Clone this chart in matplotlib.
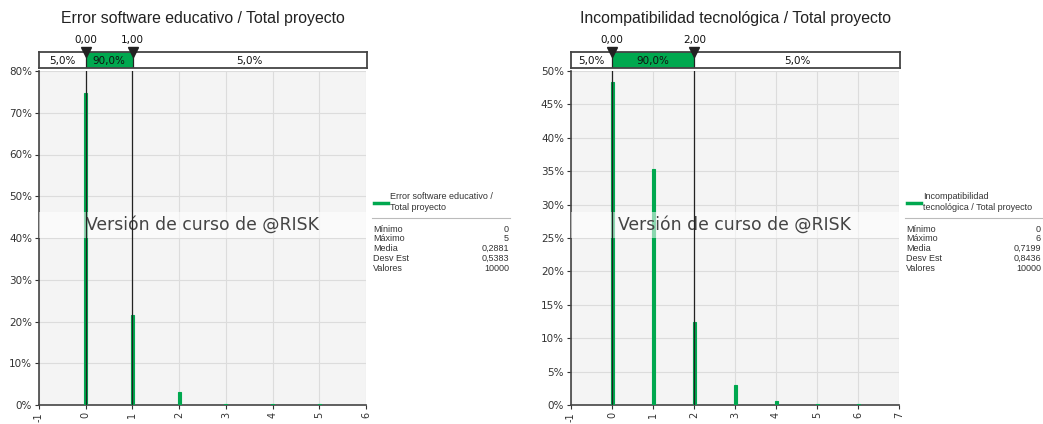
import matplotlib
matplotlib.use("Agg")
import matplotlib.pyplot as plt
from matplotlib.patches import Rectangle

plt.rcParams["font.family"] = ["DejaVu Sans"]
TITLE_FONT = "Liberation Sans"

GREEN = "#00A84F"
TEXT = "#333333"

# Left panel: Error software educativo
err_title = "Error software educativo / Total proyecto"
err_legend = "Error software educativo /\nTotal proyecto"
err_x = [0, 1, 2, 3, 4, 5]
err_pct = [74.7, 21.5, 3.1, 0.3, 0.2, 0.2]
err_ylim = 80
err_yticks = [0, 10, 20, 30, 40, 50, 60, 70, 80]
err_xticks = [-1, 0, 1, 2, 3, 4, 5, 6]
err_marks = [0.0, 1.0]
err_band = ["5,0%", "90,0%", "5,0%"]
err_stats = [("Mínimo", "0"), ("Máximo", "5"), ("Media", "0,2881"),
             ("Desv Est", "0,5383"), ("Valores", "10000")]

# Right panel: Incompatibilidad tecnológica
inc_title = "Incompatibilidad tecnológica / Total proyecto"
inc_legend = "Incompatibilidad\ntecnológica / Total proyecto"
inc_x = [0, 1, 2, 3, 4, 5, 6]
inc_pct = [48.3, 35.3, 12.4, 3.0, 0.6, 0.2, 0.2]
inc_ylim = 50
inc_yticks = [0, 5, 10, 15, 20, 25, 30, 35, 40, 45, 50]
inc_xticks = [-1, 0, 1, 2, 3, 4, 5, 6, 7]
inc_marks = [0.0, 2.0]
inc_band = ["5,0%", "90,0%", "5,0%"]
inc_stats = [("Mínimo", "0"), ("Máximo", "6"), ("Media", "0,7199"),
             ("Desv Est", "0,8436"), ("Valores", "10000")]

W, H = 1043, 424
fig = plt.figure(figsize=(W / 100, H / 100), dpi=100)


def fx(px):
    return px / W


def fy(py):
    return 1 - py / H


def panel(x0, x1, title, xs, pct, ylim, yticks, xticks, marks, band,
          legend_label, stats, leg_x, leg_right):
    ax = fig.add_axes([fx(x0), fy(405), fx(x1 - x0), fy(71) - fy(405)])
    ax.set_facecolor("#F4F4F4")
    ax.set_xlim(xticks[0], xticks[-1])
    ax.set_ylim(0, ylim)
    ax.set_yticks(yticks)
    ax.set_yticklabels([f"{v}%" for v in yticks])
    ax.set_xticks(xticks)
    ax.set_xticklabels([str(v) for v in xticks], rotation=90)
    ax.grid(True, color="#DCDCDC", lw=0.8)
    ax.set_axisbelow(True)
    for s in ("top", "right"):
        ax.spines[s].set_visible(False)
    for s in ("left", "bottom"):
        ax.spines[s].set_color("#444444")
        ax.spines[s].set_linewidth(1.2)
    ax.tick_params(axis="both", labelsize=7.5, colors=TEXT, length=3,
                   width=0.8, pad=2)
    ax.tick_params(axis="x", labelsize=7, pad=2)
    unit_px = (x1 - x0) / (xticks[-1] - xticks[0])
    ax.bar(xs, pct, width=3.0 / unit_px, color=GREEN, edgecolor=GREEN,
           linewidth=0.8, zorder=2.6)
    # watermark band
    ax.axhspan(ylim * (405 - 238) / 334, ylim * (405 - 212) / 334,
               color="white", alpha=0.55, lw=0, zorder=3)
    ax.text(xticks[0] + (xticks[-1] - xticks[0]) * (47 / 327),
            ylim * (405 - 225) / 334, "Versión de curso de @RISK",
            fontsize=12.4, color="#444444", va="center", ha="left", zorder=4)
    for m in marks:
        ax.axvline(m, color="#222222", lw=0.9, zorder=5)

    # percentile band above the plot
    bx = fig.add_axes([fx(x0), fy(68), fx(x1 - x0 + 1), fy(52) - fy(68)])
    bx.set_xlim(xticks[0], xticks[-1])
    bx.set_ylim(0, 1)
    bx.set_xticks([])
    bx.set_yticks([])
    for s in bx.spines.values():
        s.set_color("#444444")
        s.set_linewidth(1.3)
    bx.add_patch(Rectangle((marks[0], 0), marks[1] - marks[0], 1,
                           color=GREEN, lw=0))
    for m in marks:
        bx.axvline(m, color="#222222", lw=0.9)
    centers = [(xticks[0] + marks[0]) / 2, (marks[0] + marks[1]) / 2,
               (marks[1] + xticks[-1]) / 2]
    for c, t in zip(centers, band):
        bx.text(c, 0.45, t, ha="center", va="center", fontsize=7.5,
                color="#111111")
    for m in marks:
        bx.plot([m], [1.0], marker="v", color="#222222", markersize=7,
                clip_on=False, zorder=6)
        bx.text(m, 1.45, f"{m:.2f}".replace(".", ","), ha="center",
                va="bottom", fontsize=7.5, color="#111111")

    fig.text(fx((x0 + x1) / 2), fy(18), title, ha="center", va="center",
             fontsize=11.4, color="#222222", family=TITLE_FONT)

    # legend and statistics
    fig.add_artist(plt.Line2D([fx(leg_x + 2), fx(leg_x + 16)],
                              [fy(203), fy(203)], color=GREEN, lw=2.5))
    fig.text(fx(leg_x + 18), fy(202), legend_label, ha="left", va="center",
             fontsize=6.5, color=TEXT, family=TITLE_FONT, linespacing=1.3)
    fig.add_artist(plt.Line2D([fx(leg_x), fx(leg_right)],
                              [fy(218), fy(218)], color="#BBBBBB", lw=0.8))
    for i, (k, v) in enumerate(stats):
        yy = fy(229 + i * 9.8)
        fig.text(fx(leg_x + 1), yy, k, ha="left", va="center", fontsize=6.5,
                 color=TEXT, family=TITLE_FONT)
        fig.text(fx(leg_right - 1), yy, v, ha="right", va="center",
                 fontsize=6.5, color=TEXT, family=TITLE_FONT)


panel(39, 366, err_title, err_x, err_pct, err_ylim, err_yticks, err_xticks,
      err_marks, err_band, err_legend, err_stats, 372, 510)
panel(571, 899, inc_title, inc_x, inc_pct, inc_ylim, inc_yticks, inc_xticks,
      inc_marks, inc_band, inc_legend, inc_stats, 905, 1042)

fig.savefig("out.png", dpi=100)
